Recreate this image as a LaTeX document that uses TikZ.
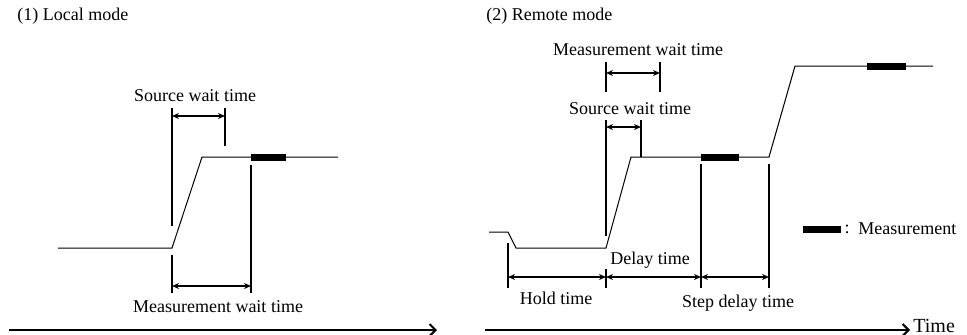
\documentclass[tikz,border=0pt]{standalone}
\usepackage{fontspec}
\setmainfont{Liberation Serif}
\usetikzlibrary{arrows.meta}

\tikzset{
  sig/.style={line width=0.5pt},
  tick/.style={line width=1pt},
  dim/.style={line width=1pt, {Stealth[length=3.5pt,width=3pt]}-{Stealth[length=3.5pt,width=3pt]}},
  meas/.style={line width=3.5pt},
  axis/.style={line width=1pt, -{Straight Barb[length=3pt,width=6pt]}},
  lbl/.style={font=\fontsize{9}{11}\selectfont, inner sep=0pt},
}

\begin{document}
\begin{tikzpicture}[x=0.5pt, y=-0.5pt]
    \useasboundingbox (0,0) rectangle (967,334);

    % (1) Local mode
    \node[lbl, anchor=west] (title1) at (17,16) {(1) Local mode};

    % Source output
    \draw[sig] (58,248) -- (172,248) -- (202,157) -- (338,157);
    \draw[meas] (251,157) -- (286,157);

    % Source wait time
    \coordinate (lsA) at (172,116);
    \coordinate (lsB) at (225,116);
    \draw[tick] (172,108) -- (172,226);
    \draw[tick] (225,108) -- (225,146);
    \draw[dim] (lsA) -- (lsB);
    \node[lbl] (lsw) at (195,96) {Source wait time};

    % Measurement wait time
    \coordinate (lmA) at (172,286);
    \coordinate (lmB) at (251,286);
    \draw[tick] (172,255) -- (172,293);
    \draw[tick] (251,165) -- (251,293);
    \draw[dim] (lmA) -- (lmB);
    \node[lbl] (lmw) at (218,307) {Measurement wait time};

    % Time axis
    \coordinate (lt0) at (9,330);
    \coordinate (lt1) at (437,330);
    \draw[axis] (lt0) -- (lt1);

    % (2) Remote mode
    \node[lbl, anchor=west] (title2) at (486,16) {(2) Remote mode};

    % Source output
    \draw[sig] (489,232) -- (508,232) -- (516,248) -- (606,248) -- (631,157)
        -- (769,157) -- (795,66) -- (933,66);
    \draw[meas] (701,157) -- (739,157);
    \draw[meas] (867,66) -- (906,66);

    % Measurement wait time
    \coordinate (rmA) at (606,73);
    \coordinate (rmB) at (660,73);
    \draw[tick] (606,62) -- (606,92);
    \draw[tick] (660,62) -- (660,92);
    \draw[dim] (rmA) -- (rmB);
    \node[lbl] (rmw) at (638,50) {Measurement wait time};

    % Source wait time
    \coordinate (rsA) at (606,127);
    \coordinate (rsB) at (641,127);
    \draw[tick] (606,120) -- (606,236);
    \draw[tick] (641,120) -- (641,157);
    \draw[dim] (rsA) -- (rsB);
    \node[lbl] (rsw) at (630,109) {Source wait time};

    % Hold, delay and step delay time
    \coordinate (h0) at (508,277);
    \coordinate (h1) at (606,277);
    \coordinate (d1) at (701,277);
    \coordinate (s1) at (769,277);
    \draw[tick] (508,243) -- (508,288);
    \draw[tick] (606,269) -- (606,288);
    \draw[tick] (701,164) -- (701,288);
    \draw[tick] (769,164) -- (769,288);
    \draw[dim] (h0) -- (h1);
    \draw[dim] (h1) -- (d1);
    \draw[dim] (d1) -- (s1);
    \node[lbl] (hold) at (556,298) {Hold time};
    \node[lbl] (delay) at (650,260) {Delay time};
    \node[lbl] (step) at (738,303) {Step delay time};

    % Legend
    \draw[meas] (803,229) -- (841,229);
    \node[lbl] (colon) at (847,229) {:};
    \node[lbl, anchor=west] (legend) at (858,229) {Measurement};

    % Time axis
    \coordinate (rt0) at (485,330);
    \coordinate (rt1) at (910,330);
    \draw[axis] (rt0) -- (rt1);
    \node[lbl, font=\fontsize{10}{12}\selectfont, anchor=west] (time) at (913,326) {Time};
\end{tikzpicture}
\end{document}
